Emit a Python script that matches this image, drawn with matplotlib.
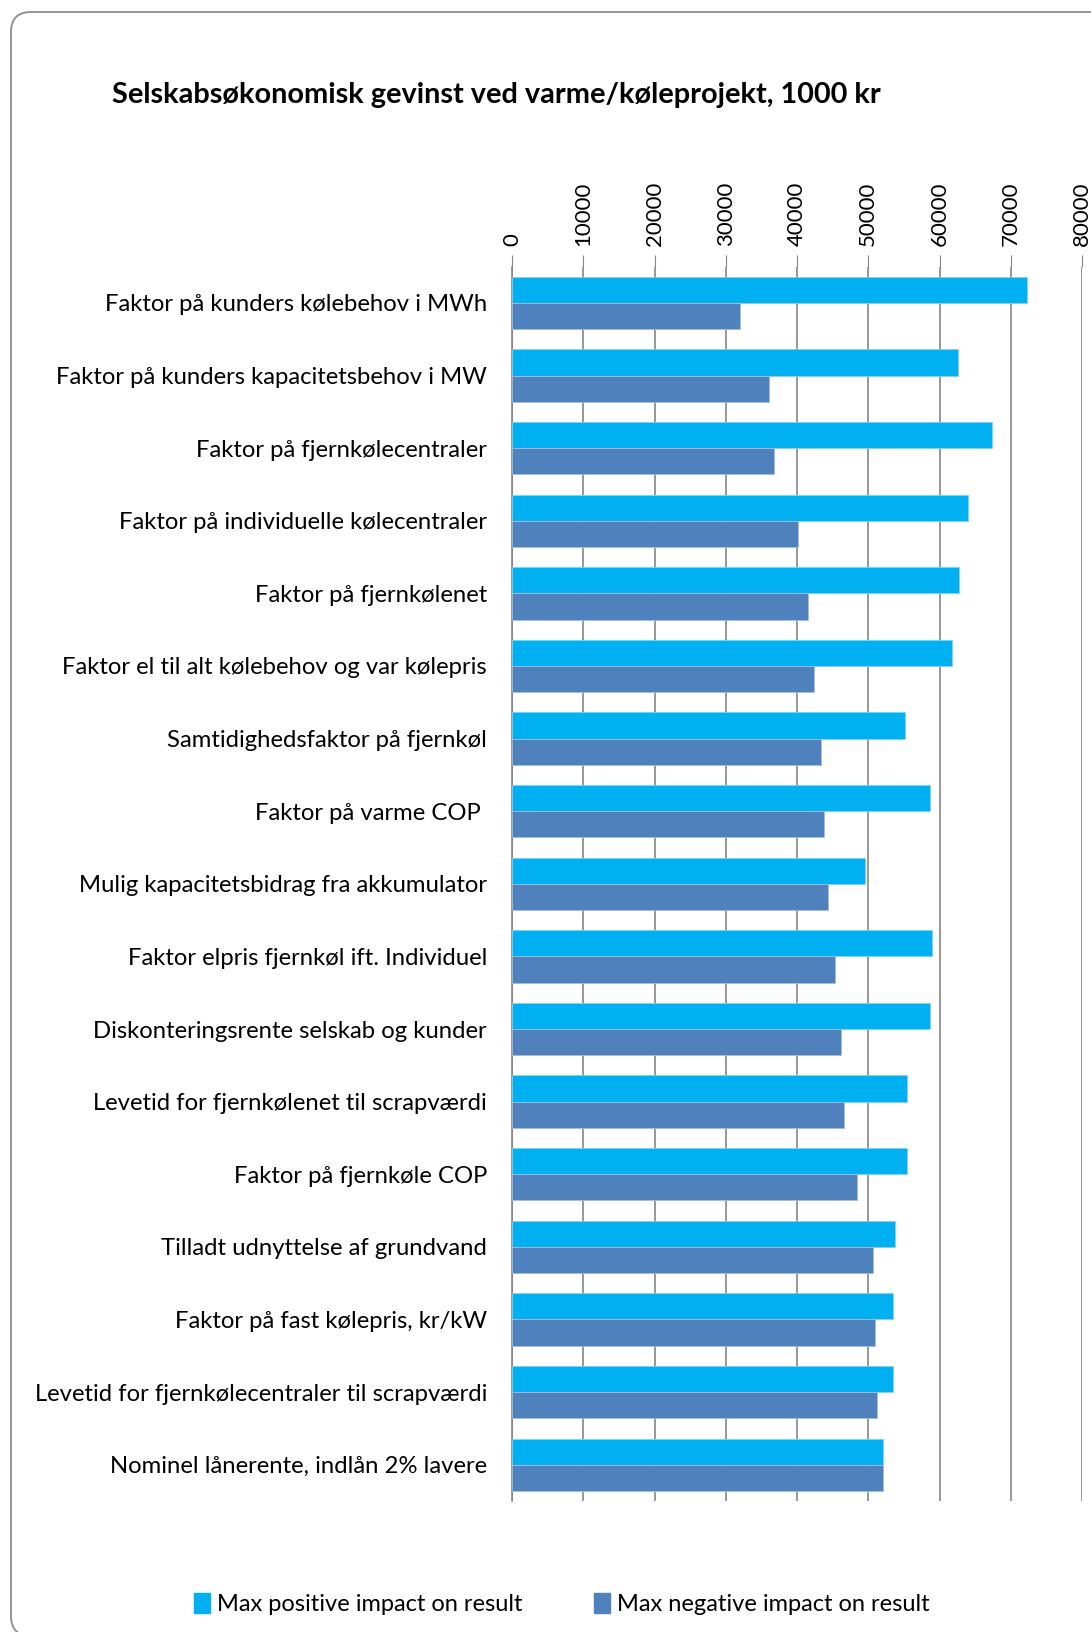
import matplotlib
matplotlib.use('Agg')
import matplotlib.pyplot as plt
import numpy as np
from matplotlib.patches import FancyBboxPatch, Patch
from matplotlib.transforms import IdentityTransform

plt.rcParams['font.family'] = ['Lato', 'DejaVu Sans']

categories = [
    'Faktor på kunders kølebehov i MWh',
    'Faktor på kunders kapacitetsbehov i MW',
    'Faktor på fjernkølecentraler',
    'Faktor på individuelle kølecentraler',
    'Faktor på fjernkølenet',
    'Faktor el til alt kølebehov og var kølepris',
    'Samtidighedsfaktor på fjernkøl',
    'Faktor på varme COP ',
    'Mulig kapacitetsbidrag fra akkumulator',
    'Faktor elpris fjernkøl ift. Individuel',
    'Diskonteringsrente selskab og kunder',
    'Levetid for fjernkølenet til scrapværdi',
    'Faktor på fjernkøle COP',
    'Tilladt udnyttelse af grundvand',
    'Faktor på fast kølepris, kr/kW',
    'Levetid for fjernkølecentraler til scrapværdi',
    'Nominel lånerente, indlån 2% lavere',
]
positive = [72300, 62600, 67400, 64000, 62700, 61800, 55100, 58600, 49500,
            58900, 58600, 55400, 55400, 53800, 53500, 53400, 52100]
negative = [32000, 36000, 36800, 40200, 41600, 42400, 43400, 43800, 44400,
            45300, 46200, 46600, 48400, 50600, 50900, 51200, 52100]
xticks = [0, 10000, 20000, 30000, 40000, 50000, 60000, 70000, 80000]

fig = plt.figure(figsize=(10.91, 16.32), dpi=100)
ax = fig.add_axes([0.4693, 0.0803, 0.5225, 0.7563])

y = np.arange(len(categories))
h = 0.36
ax.barh(y - h / 2, positive, height=h, color='#00B0F0', edgecolor='#7FD3F5', linewidth=0.6,
        label='Max positive impact on result', zorder=3)
ax.barh(y + h / 2, negative, height=h, color='#4F81BD', edgecolor='#A3BEDB', linewidth=0.6,
        label='Max negative impact on result', zorder=3)

ax.set_ylim(len(categories) - 0.5, -0.5)
ax.set_xlim(0, 80000)
ax.set_yticks(y)
ax.set_yticklabels(categories, fontsize=17.2)
ax.tick_params(axis='y', length=0, pad=18)

ax.xaxis.tick_top()
ax.set_xticks(xticks)
ax.set_xticklabels([str(v) for v in xticks], rotation=90, fontsize=16)
ax.tick_params(axis='x', length=9, color='#868686', pad=6)
ax.grid(axis='x', color='#868686', linewidth=1.2, zorder=0)

for s in ['top', 'right', 'bottom']:
    ax.spines[s].set_visible(False)
ax.spines['left'].set_color('#868686')
ax.spines['left'].set_linewidth(1.2)

fig.text(0.103, 0.942, 'Selskabsøkonomisk gevinst ved varme/køleprojekt, 1000 kr',
         fontsize=20.8, fontweight='bold', va='center', ha='left')

handles = [Patch(color='#00B0F0', label='Max positive impact on result'),
           Patch(color='#4F81BD', label='Max negative impact on result')]
fig.legend(handles=handles, loc='center', bbox_to_anchor=(0.515, 0.017), ncol=2,
           frameon=False, fontsize=17, handlelength=0.7, handleheight=0.9,
           handletextpad=0.3, columnspacing=3.0)

# rounded frame round the chart, in pixels; it runs off the right and bottom edges
border = FancyBboxPatch((11, -4), 1300, 1624, boxstyle='round,pad=0,rounding_size=20',
                        transform=IdentityTransform(), facecolor='none',
                        edgecolor='#8C8C8C', linewidth=1.3)
fig.patches.append(border)

fig.savefig('out.png', dpi=100)
